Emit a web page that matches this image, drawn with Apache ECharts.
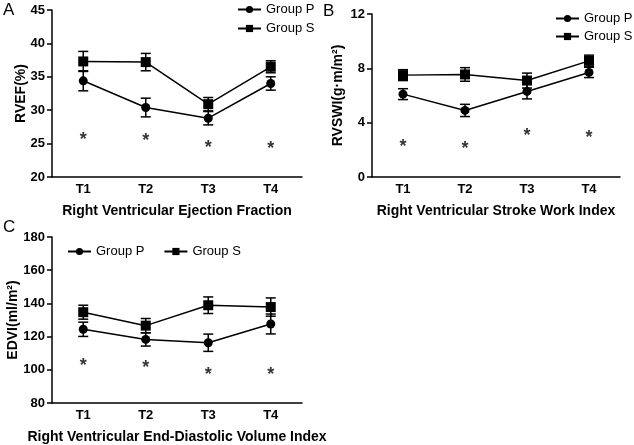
<!doctype html>
<html lang="en">
<head>
<meta charset="UTF-8">
<title>Right ventricular indices</title>
<script src="https://cdn.jsdelivr.net/npm/echarts@6/dist/echarts.min.js"></script>
<style>
  html, body { margin: 0; padding: 0; background: #fff; }
  #main { width: 634px; height: 445px; }
</style>
</head>
<body>
<div id="main"></div>
<script>
// time points
var times = ['T1', 'T2', 'T3', 'T4'];

// A - RVEF (%)
var rvefP = [34.4, 30.4, 28.8, 34.0];
var rvefPErr = [1.5, 1.4, 1.0, 1.0];
var rvefS = [37.3, 37.2, 30.9, 36.5];
var rvefSErr = [1.5, 1.3, 1.0, 0.9];
var rvefStar = [26.1, 26.0, 24.9, 24.8];

// B - RVSWI
var rvswiP = [6.1, 4.9, 6.3, 7.7];
var rvswiPErr = [0.4, 0.45, 0.55, 0.38];
var rvswiS = [7.5, 7.55, 7.1, 8.55];
var rvswiSErr = [0.4, 0.5, 0.55, 0.42];
var rvswiStar = [2.5, 2.35, 3.3, 3.15];

// C - EDVI
var edviP = [124.4, 118.3, 116.3, 127.6];
var edviPErr = [4.3, 4.0, 5.2, 6.0];
var edviS = [134.7, 126.6, 138.9, 137.8];
var edviSErr = [4.2, 4.3, 5.0, 5.5];
var edviStar = [104.6, 103.3, 99.2, 99.0];

var chart = echarts.init(document.getElementById('main'));
var font = 'Liberation Sans, Arial, sans-serif';

function errData(mean, err) {
    return mean.map(function (m, i) { return [i, m - err[i], m + err[i]]; });
}

function renderErr(params, api) {
    var x = api.value(0);
    var top = api.coord([x, api.value(2)]);
    var bot = api.coord([x, api.value(1)]);
    var w = 5;
    var st = { stroke: '#000', lineWidth: 1.5 };
    return {
        type: 'group',
        children: [
            { type: 'line', shape: { x1: top[0], y1: top[1], x2: bot[0], y2: bot[1] }, style: st },
            { type: 'line', shape: { x1: top[0] - w, y1: top[1], x2: top[0] + w, y2: top[1] }, style: st },
            { type: 'line', shape: { x1: bot[0] - w, y1: bot[1], x2: bot[0] + w, y2: bot[1] }, style: st }
        ]
    };
}

function xAx(idx, name) {
    return {
        type: 'category', gridIndex: idx, data: times, boundaryGap: true,
        name: name, nameLocation: 'middle', nameGap: 27, nameMoveOverlap: false,
        nameTextStyle: { fontFamily: font, fontWeight: 'bold', fontSize: 14, color: '#000' },
        axisLine: { lineStyle: { color: '#000', width: 1.5 } },
        axisTick: { alignWithLabel: true, length: 4, lineStyle: { color: '#000', width: 1.5 } },
        axisLabel: { fontFamily: font, fontWeight: 'bold', fontSize: 13, color: '#000', margin: 6 }
    };
}

function yAx(idx, name, min, max, step, gap) {
    return {
        type: 'value', gridIndex: idx, min: min, max: max, interval: step,
        name: name, nameLocation: 'middle', nameGap: gap, nameRotate: 90, nameMoveOverlap: false,
        nameTextStyle: { fontFamily: font, fontWeight: 'bold', fontSize: 14, color: '#000' },
        axisLine: { show: true, lineStyle: { color: '#000', width: 1.5 } },
        axisTick: { show: true, length: 5, lineStyle: { color: '#000', width: 1.5 } },
        axisLabel: { fontFamily: font, fontWeight: 'bold', fontSize: 13, color: '#000', margin: 7 },
        splitLine: { show: false }
    };
}

function lineSeries(name, idx, data, symbol, size) {
    return {
        type: 'line', name: name, xAxisIndex: idx, yAxisIndex: idx, data: data,
        symbol: symbol, symbolSize: size, z: 3,
        itemStyle: { color: '#000' },
        lineStyle: { color: '#000', width: 1.5 }
    };
}

function errSeries(idx, mean, err) {
    return {
        type: 'custom', xAxisIndex: idx, yAxisIndex: idx,
        data: errData(mean, err), renderItem: renderErr, z: 2, silent: true
    };
}

function starSeries(idx, data) {
    return {
        type: 'scatter', xAxisIndex: idx, yAxisIndex: idx, data: data,
        symbolSize: 0, silent: true,
        label: { show: true, position: 'inside', formatter: '*', offset: [0, 4],
                 fontFamily: font, fontWeight: 'bold', fontSize: 18, color: '#000' }
    };
}

function legendAt(left, top, orient, gap) {
    return {
        left: left, top: top, orient: orient, itemGap: gap, padding: 0,
        itemWidth: 23, itemHeight: 9,
        data: ['Group P', 'Group S'],
        textStyle: { fontFamily: font, fontSize: 13, color: '#000' }
    };
}

var letterStyle = { fontFamily: font, fontWeight: 'normal', fontSize: 17, color: '#000' };

var option = {
    animation: false,
    title: [
        { text: 'A', left: 3, top: 2, padding: 0, textStyle: letterStyle },
        { text: 'B', left: 323, top: 3, padding: 0, textStyle: letterStyle },
        { text: 'C', left: 3, top: 219, padding: 0, textStyle: letterStyle }
    ],
    legend: [
        legendAt(237, 3, 'vertical', 6),
        legendAt(555, 12, 'vertical', 5),
        legendAt(67, 245, 'horizontal', 19)
    ],
    grid: [
        { left: 52, top: 10, width: 250, height: 167 },
        { left: 372, top: 14, width: 248, height: 163 },
        { left: 52, top: 237, width: 250, height: 167 }
    ],
    xAxis: [
        xAx(0, 'Right Ventricular Ejection Fraction'),
        xAx(1, 'Right Ventricular Stroke Work Index'),
        xAx(2, 'Right Ventricular End-Diastolic Volume Index')
    ],
    yAxis: [
        yAx(0, 'RVEF(%)', 20, 45, 5, 24),
        yAx(1, 'RVSWI(g·m/m²)', 0, 12, 4, 27),
        yAx(2, 'EDVI(ml/m²)', 80, 180, 20, 32)
    ],
    series: [
        errSeries(0, rvefP, rvefPErr),
        errSeries(0, rvefS, rvefSErr),
        lineSeries('Group P', 0, rvefP, 'circle', 9),
        lineSeries('Group S', 0, rvefS, 'rect', 10),
        starSeries(0, rvefStar),

        errSeries(1, rvswiP, rvswiPErr),
        errSeries(1, rvswiS, rvswiSErr),
        lineSeries('Group P', 1, rvswiP, 'circle', 9),
        lineSeries('Group S', 1, rvswiS, 'rect', 10),
        starSeries(1, rvswiStar),

        errSeries(2, edviP, edviPErr),
        errSeries(2, edviS, edviSErr),
        lineSeries('Group P', 2, edviP, 'circle', 9),
        lineSeries('Group S', 2, edviS, 'rect', 10),
        starSeries(2, edviStar)
    ]
};

chart.setOption(option);
</script>
</body>
</html>
